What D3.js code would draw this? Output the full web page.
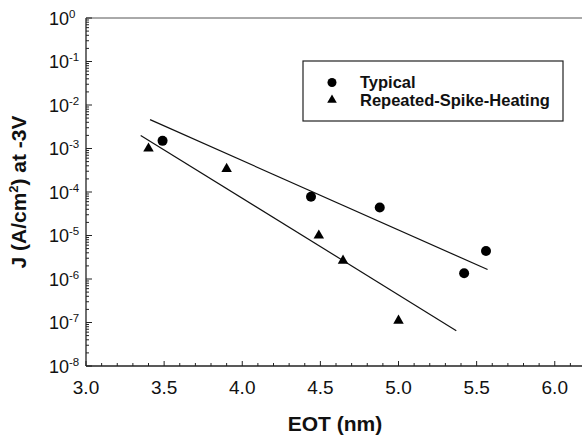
<!DOCTYPE html>
<html>
<head>
<meta charset="utf-8">
<script src="https://cdn.jsdelivr.net/npm/d3@7"></script>
<style>
  body { margin: 0; background: #fff; }
  svg { font-family: "Liberation Sans", Arial, sans-serif; }
</style>
</head>
<body>
<div id="chart"></div>
<script>
// measured values
const typicalEot = [3.49, 4.44, 4.88, 5.42, 5.56];
const typicalJ = [1.5e-3, 7.8e-5, 4.4e-5, 1.35e-6, 4.4e-6];
const spikeEot = [3.40, 3.90, 4.49, 4.645, 5.0];
const spikeJ = [1.0e-3, 3.4e-4, 1.0e-5, 2.65e-6, 1.1e-7];
// fitted lines, endpoints
const typicalFitEot = [3.41, 5.57];
const typicalFitJ = [4.6e-3, 1.65e-6];
const spikeFitEot = [3.35, 5.37];
const spikeFitJ = [2.0e-3, 6.5e-8];
const xTicks = [3.0, 3.5, 4.0, 4.5, 5.0, 5.5, 6.0];
const yExponents = [0, -1, -2, -3, -4, -5, -6, -7, -8];
const legendLabels = ["Typical", "Repeated-Spike-Heating"];

const width = 582, height = 439;
const margin = { left: 86, top: 18, right: -4, bottom: 73 };

const svg = d3.select("#chart").append("svg")
  .attr("width", width)
  .attr("height", height);

const x = d3.scaleLinear()
  .domain([3.0, 6.2])
  .range([margin.left, width - margin.right]);

const y = d3.scaleLog()
  .domain([1e-8, 1])
  .range([height - margin.bottom, margin.top]);

// frame: left, bottom and top lines
const frame = svg.append("g").attr("stroke", "#222").attr("fill", "none");
frame.append("line")
  .attr("x1", x(3.0)).attr("x2", x(3.0))
  .attr("y1", y(1)).attr("y2", y(1e-8)).attr("stroke-width", 1.3);
frame.append("line")
  .attr("x1", x(3.0)).attr("x2", width)
  .attr("y1", y(1e-8)).attr("y2", y(1e-8)).attr("stroke-width", 1.3);
frame.append("line")
  .attr("x1", x(3.0)).attr("x2", width)
  .attr("y1", y(1)).attr("y2", y(1)).attr("stroke", "#555").attr("stroke-width", 1);

// y ticks (inward), minor at 2..9 of each decade
let yTickVals = [];
yExponents.forEach(e => {
  yTickVals.push({ v: Math.pow(10, e), major: true });
  if (e < 0) {
    for (let m = 2; m <= 9; m++) yTickVals.push({ v: m * Math.pow(10, e), major: false });
  }
});
svg.append("g").selectAll("line")
  .data(yTickVals)
  .join("line")
  .attr("x1", x(3.0))
  .attr("x2", d => x(3.0) + (d.major ? 6 : 3))
  .attr("y1", d => y(d.v))
  .attr("y2", d => y(d.v))
  .attr("stroke", "#222")
  .attr("stroke-width", 1);

const yLabels = svg.append("g").selectAll("text")
  .data(yExponents)
  .join("text")
  .attr("x", 49)
  .attr("y", d => y(Math.pow(10, d)) + 6.5)
  .attr("font-size", 18)
  .attr("fill", "#111");
yLabels.append("tspan").text("10");
yLabels.append("tspan")
  .attr("dy", -7)
  .attr("font-size", 11.5)
  .text(d => d);

// x ticks (inward), minor every 0.1
const xMinor = d3.range(30, 63).map(v => v / 10);
svg.append("g").selectAll("line")
  .data(xMinor)
  .join("line")
  .attr("x1", d => x(d))
  .attr("x2", d => x(d))
  .attr("y1", y(1e-8))
  .attr("y2", d => y(1e-8) - (Math.abs(d * 2 - Math.round(d * 2)) < 1e-6 ? 5 : 3))
  .attr("stroke", "#222")
  .attr("stroke-width", 1);

svg.append("g").selectAll("text")
  .data(xTicks)
  .join("text")
  .attr("x", d => x(d))
  .attr("y", y(1e-8) + 28)
  .attr("text-anchor", "middle")
  .attr("font-size", 19)
  .attr("fill", "#111")
  .text(d => d.toFixed(1));

// axis titles
svg.append("text")
  .attr("x", 335)
  .attr("y", 431)
  .attr("text-anchor", "middle")
  .attr("font-size", 21)
  .attr("font-weight", "bold")
  .attr("fill", "#111")
  .text("EOT (nm)");

const yTitle = svg.append("text")
  .attr("transform", `translate(26, ${(y(1) + y(1e-8)) / 2}) rotate(-90)`)
  .attr("text-anchor", "middle")
  .attr("font-size", 21)
  .attr("font-weight", "bold")
  .attr("fill", "#111");
yTitle.append("tspan").text("J (A/cm");
yTitle.append("tspan").attr("dy", -8).attr("font-size", 13).text("2");
yTitle.append("tspan").attr("dy", 8).text(") at -3V");

// fit lines
const line = d3.line().x(d => x(d[0])).y(d => y(d[1]));
svg.append("path")
  .datum(d3.zip(typicalFitEot, typicalFitJ))
  .attr("d", line)
  .attr("fill", "none")
  .attr("stroke", "#111")
  .attr("stroke-width", 1.2);
svg.append("path")
  .datum(d3.zip(spikeFitEot, spikeFitJ))
  .attr("d", line)
  .attr("fill", "none")
  .attr("stroke", "#111")
  .attr("stroke-width", 1.2);

// points
svg.append("g").selectAll("circle")
  .data(d3.zip(typicalEot, typicalJ))
  .join("circle")
  .attr("cx", d => x(d[0]))
  .attr("cy", d => y(d[1]))
  .attr("r", 5)
  .attr("fill", "#000");

const tri = d3.symbol().type(d3.symbolTriangle).size(48);
svg.append("g").selectAll("path")
  .data(d3.zip(spikeEot, spikeJ))
  .join("path")
  .attr("transform", d => `translate(${x(d[0])},${y(d[1])})`)
  .attr("d", tri)
  .attr("fill", "#000");

// legend
const legend = svg.append("g");
legend.append("rect")
  .attr("x", 303).attr("y", 61)
  .attr("width", 260).attr("height", 60)
  .attr("fill", "#fff")
  .attr("stroke", "#222")
  .attr("stroke-width", 1.2);
legend.append("circle")
  .attr("cx", 332).attr("cy", 82.5).attr("r", 4.5).attr("fill", "#000");
legend.append("path")
  .attr("transform", "translate(332,100)")
  .attr("d", d3.symbol().type(d3.symbolTriangle).size(40))
  .attr("fill", "#000");
legend.selectAll("text")
  .data(legendLabels)
  .join("text")
  .attr("x", 360)
  .attr("y", (d, i) => 88 + i * 18)
  .attr("font-size", 16.5)
  .attr("font-weight", "bold")
  .attr("fill", "#111")
  .text(d => d);
</script>
</body>
</html>
